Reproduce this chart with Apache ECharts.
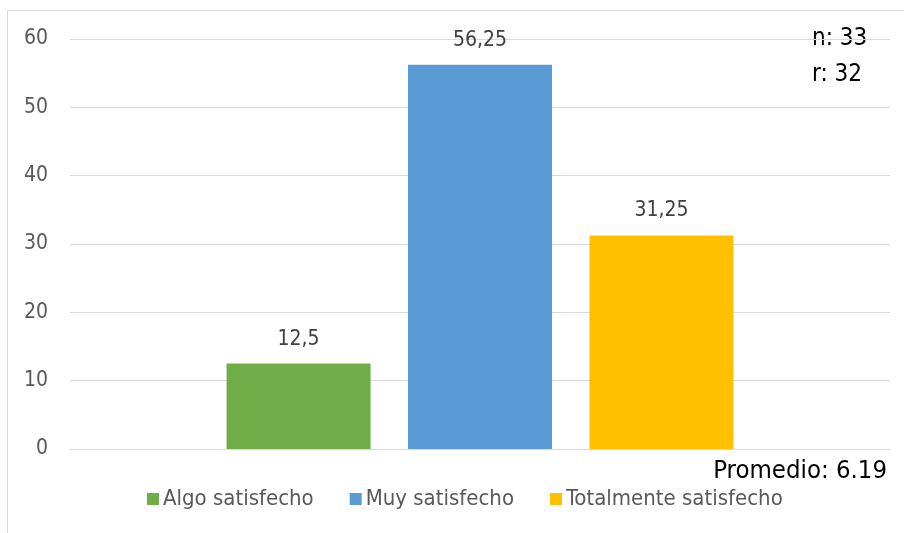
<!DOCTYPE html>
<html><head><meta charset="utf-8">
<script src="https://cdn.jsdelivr.net/npm/echarts@6/dist/echarts.min.js"></script>
<style>html,body{margin:0;padding:0;background:#fff}#c{width:904px;height:533px}</style>
</head><body><div id="c"></div>
<script>
const categories = [''];
const seriesNames = ['Algo satisfecho', 'Muy satisfecho', 'Totalmente satisfecho'];
const algoValues = [12.5];
const muyValues = [56.25];
const totalValues = [31.25];
const yTicks = [0, 10, 20, 30, 40, 50, 60];
const colors = ['#70AD47', '#5B9BD5', '#FFC000'];
const font = '"Liberation Sans Narrow", "DejaVu Sans Condensed", "Open Sans", sans-serif';

const chart = echarts.init(document.getElementById('c'));
const values = [algoValues, muyValues, totalValues];
chart.setOption({
  animation: false,
  textStyle: { fontFamily: font },
  grid: { left: 70, right: 14, top: 39, bottom: 84 },
  graphic: [
    { type: 'rect', shape: { x: 7.5, y: 10.5, width: 1000, height: 1000 }, style: { fill: 'none', stroke: '#d9d9d9', lineWidth: 1 }, silent: true },
    { type: 'text', left: 812, top: 21, style: { text: 'n: 33\nr: 32', font: '24px ' + font, fill: '#000', lineHeight: 36 } },
    { type: 'text', right: 17, top: 458, style: { text: 'Promedio: 6.19', font: '25.5px ' + font, fill: '#000' } }
  ],
  legend: {
    bottom: 18, left: 142,
    itemWidth: 12, itemHeight: 12, itemGap: 36,
    icon: 'rect',
    textStyle: { fontSize: 22, color: '#595959', fontFamily: font, padding: [0, 0, 0, -1] },
    data: seriesNames
  },
  xAxis: {
    type: 'category', data: categories,
    axisLine: { lineStyle: { color: '#d9d9d9' } },
    axisTick: { show: false }, axisLabel: { show: false }
  },
  yAxis: {
    type: 'value', min: yTicks[0], max: yTicks[yTicks.length - 1], interval: 10,
    axisLine: { show: false }, axisTick: { show: false },
    axisLabel: { fontSize: 21, color: '#595959', margin: 22, fontFamily: font, padding: [4, 0, 0, 0] },
    splitLine: { lineStyle: { color: '#d9d9d9' } }
  },
  series: seriesNames.map((n, i) => ({
    name: n, type: 'bar', data: values[i],
    itemStyle: { color: colors[i] },
    barWidth: 144, barGap: '26%',
    label: { show: true, position: 'top', distance: 14, fontSize: 21, color: '#404040', fontFamily: font,
      formatter: p => String(p.value).replace('.', ',') }
  }))
});
</script></body></html>
